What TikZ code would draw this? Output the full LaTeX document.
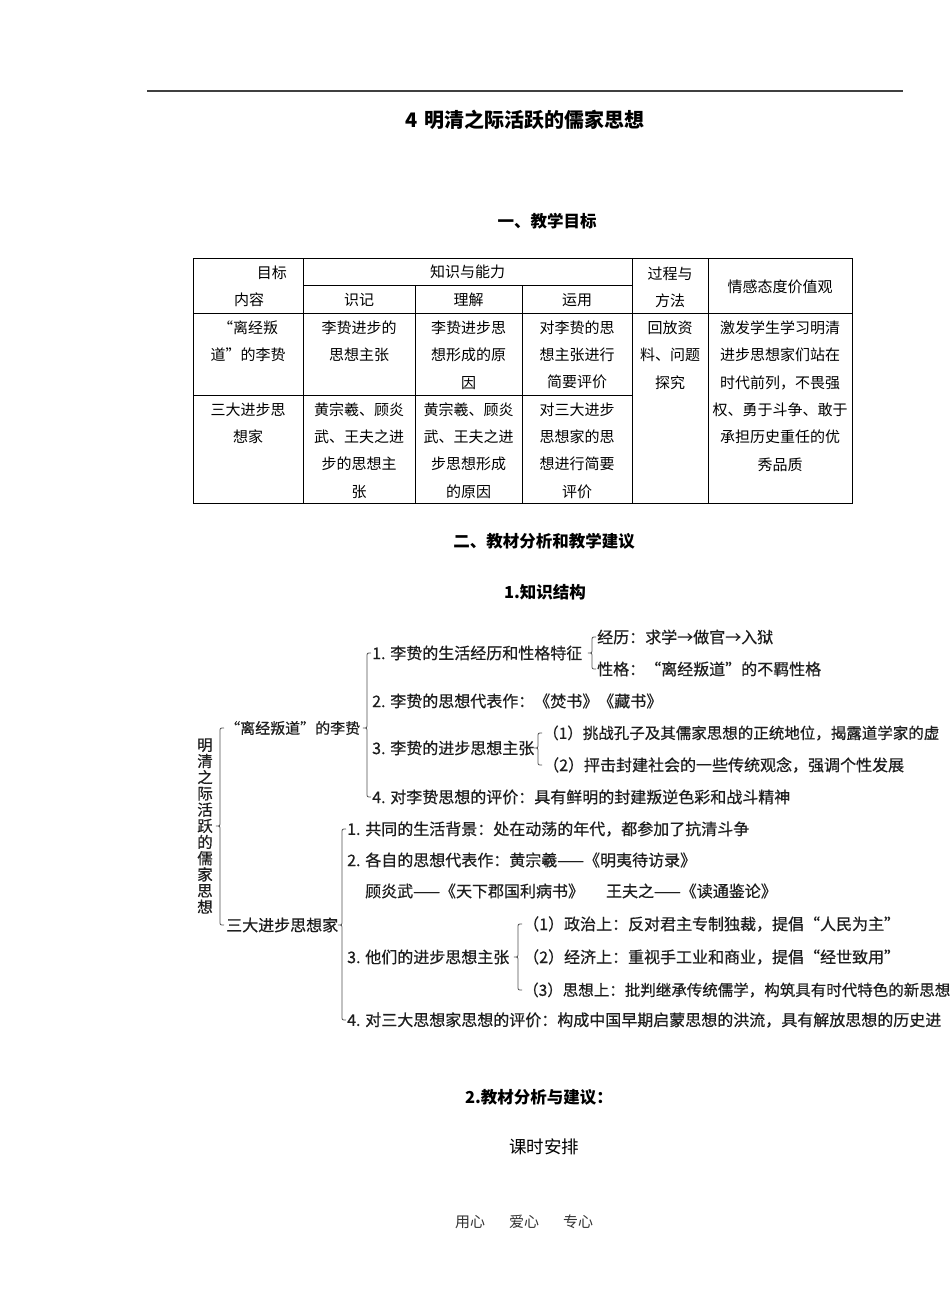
\documentclass[tikz,border=0pt]{standalone}
\usepackage{fontspec}
\setmainfont{Noto Sans CJK SC}
\newfontfamily\mmfont{Noto Sans CJK SC}[FakeBold=0.6]
\usetikzlibrary{calc}
\definecolor{mmtext}{HTML}{1E1E1E}
\definecolor{bracecol}{HTML}{505050}
\newcommand\mybrace[3]{%
  \draw[brace] let \p1=(#1.east), \p2=(#2.west), \p3=(#3.west),
     \p4=($(#2.west)+(-5pt,0)$) in
     (\x4+4pt,\y2) .. controls (\x4,\y2) .. (\x4,\y2-4pt) -- (\x4,\y1+4pt)
     .. controls (\x4,\y1) .. (\x4-4pt,\y1) .. controls (\x4,\y1) .. (\x4,\y1-4pt)
     -- (\x4,\y3+4pt) .. controls (\x4,\y3) .. (\x4+4pt,\y3);
}
\begin{document}
\begin{tikzpicture}[x=1pt,y=-1pt,
  tline/.style={line width=0.9pt, black},
  tcell/.style={font=\fontsize{15}{27.3}\selectfont, inner sep=0pt, align=center, anchor=center},
  heading/.style={font=\fontsize{16.5}{20}\selectfont\bfseries, inner sep=0pt},
  mm/.style={font=\mmfont\fontsize{16}{19}\selectfont, text=mmtext, inner sep=0pt, anchor=west},
  mmlong/.style={mm, font=\mmfont\fontsize{15.5}{19}\selectfont},
  brace/.style={draw=bracecol, line width=0.8pt}]
\useasboundingbox (0,0) rectangle (950,1316);
\clip (0,0) rectangle (950,1316);

% top rule and title
\draw[line width=2.5pt, black!75] (147,91) -- (903,91);
\node[font=\fontsize{20}{24}\selectfont\bfseries, inner sep=0pt] (title) at (525,120) {4\hspace{6pt}明清之际活跃的儒家思想};
\node[heading] (h1) at (547,221) {一、教学目标};

% table grid
\draw[tline] (193,258) rectangle (852,503);
\draw[tline] (303,285) -- (632,285);
\draw[tline] (193,313) -- (852,313);
\draw[tline] (193,395) -- (632,395);
\draw[tline] (303,258) -- (303,503);
\draw[tline] (415,285) -- (415,503);
\draw[tline] (522,285) -- (522,503);
\draw[tline] (632,258) -- (632,503);
\draw[tline] (708,258) -- (708,503);

% table header
\node[tcell, anchor=east] (t00a) at (287,273) {目标};
\node[tcell] (t00b) at (249,300) {内容};
\node[tcell] (t0k) at (467.5,272) {知识与能力};
\node[tcell] (t01) at (359,300) {识记};
\node[tcell] (t02) at (468.5,300) {理解};
\node[tcell] (t03) at (577,300) {运用};
\node[tcell] (t04) at (670,287) {过程与\\方法};
\node[tcell] (t05) at (780,287) {情感态度价值观};

% row 1
\node[tcell] (t10) at (248,341.5) {“离经叛\\道”的李贽};
\node[tcell] (t11) at (359,341.5) {李贽进步的\\思想主张};
\node[tcell] (t12) at (468.5,355) {李贽进步思\\想形成的原\\因};
\node[tcell] (t13) at (577,355) {对李贽的思\\想主张进行\\简要评价};
\node[tcell] (t14) at (670,355) {回放资\\料、问题\\探究};
\node[tcell] (t15) at (780,396) {激发学生学习明清\\进步思想家们站在\\时代前列，不畏强\\权、勇于斗争、敢于\\承担历史重任的优\\秀品质};

% row 2
\node[tcell] (t20) at (248,423.5) {三大进步思\\想家};
\node[tcell] (t21) at (359,450.5) {黄宗羲、顾炎\\武、王夫之进\\步的思想主\\张};
\node[tcell] (t22) at (468.5,450.5) {黄宗羲、顾炎\\武、王夫之进\\步思想形成\\的原因};
\node[tcell] (t23) at (577,450.5) {对三大进步\\思想家的思\\想进行简要\\评价};

\node[heading] (h2) at (544,541) {二、教材分析和教学建议};
\node[heading] (h3) at (545,592) {1.知识结构};

% mind map
\node[font=\mmfont\fontsize{15.5}{16.2}\selectfont, text=mmtext, inner sep=0pt, align=center] (root) at (205,826)
  {明\\清\\之\\际\\活\\跃\\的\\儒\\家\\思\\想};
\node[mm, font=\mmfont\fontsize{15}{18}\selectfont] (n1) at (225,728) {“离经叛道”的李贽};
\node[mm] (n2) at (226,925) {三大进步思想家};

\node[mm] (a1) at (372,653) {1. 李贽的生活经历和性格特征};
\node[mm] (a11) at (597,637) {经历：求学→做官→入狱};
\node[mm] (a12) at (597,669) {性格：“离经叛道”的不羁性格};
\node[mm] (a2) at (372,701) {2. 李贽的思想代表作：《焚书》《藏书》};
\node[mm] (a3) at (372,748) {3. 李贽的进步思想主张};
\node[mmlong] (a31) at (543,733) {（1）挑战孔子及其儒家思想的正统地位，揭露道学家的虚};
\node[mm] (a32) at (543,765) {（2）抨击封建社会的一些传统观念，强调个性发展};
\node[mm] (a4) at (372,797) {4. 对李贽思想的评价：具有鲜明的封建叛逆色彩和战斗精神};

\node[mm] (b1) at (347,829) {1. 共同的生活背景：处在动荡的年代，都参加了抗清斗争};
\node[mm] (b2) at (347,860) {2. 各自的思想代表作：黄宗羲——《明夷待访录》};
\node[mm] (b2b) at (365,891) {顾炎武——《天下郡国利病书》\hspace{22pt}王夫之——《读通鉴论》};
\node[mm] (b3) at (347,957) {3. 他们的进步思想主张};
\node[mm] (b31) at (523,924) {（1）政治上：反对君主专制独裁，提倡“人民为主”};
\node[mm] (b32) at (523,957) {（2）经济上：重视手工业和商业，提倡“经世致用”};
\node[mmlong] (b33) at (523,990) {（3）思想上：批判继承传统儒学，构筑具有时代特色的新思想};
\node[mm] (b4) at (347,1020) {4. 对三大思想家思想的评价：构成中国早期启蒙思想的洪流，具有解放思想的历史进};

\mybrace{root}{n1}{n2}
\mybrace{n1}{a1}{a4}
\mybrace{a1}{a11}{a12}
\mybrace{a3}{a31}{a32}
\mybrace{n2}{b1}{b4}
\mybrace{b3}{b31}{b33}

% bottom
\node[heading] (h4) at (539,1097) {2.教材分析与建议：};
\node[font=\fontsize{17.5}{20}\selectfont, inner sep=0pt] (ks) at (544,1147) {课时安排};
\node[font=\fontsize{15}{18}\selectfont, text=black!80, inner sep=0pt] (foot) at (524,1222) {用心\hspace{24pt}爱心\hspace{24pt}专心};
\end{tikzpicture}
\end{document}
